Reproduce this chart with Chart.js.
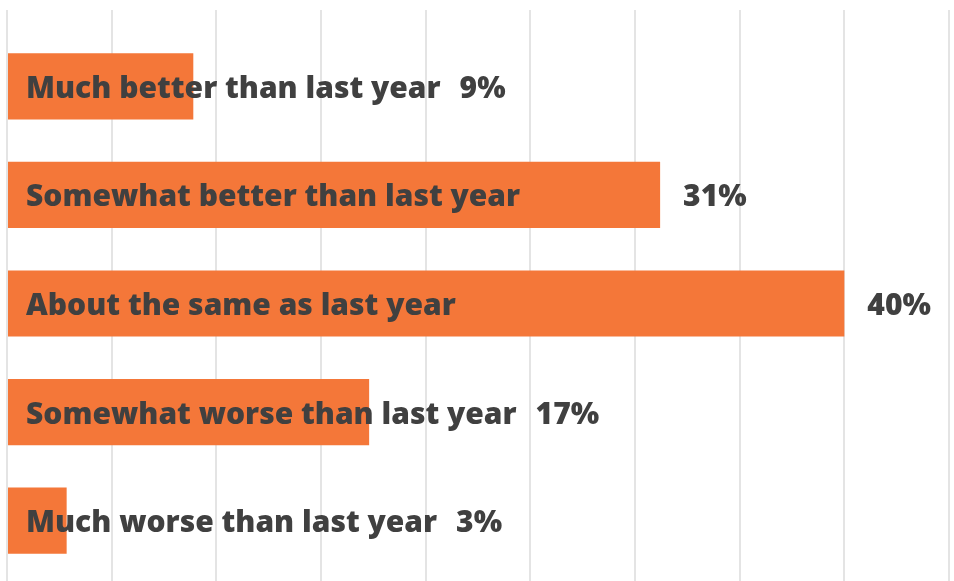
<!DOCTYPE html>
<html>
<head>
<meta charset="utf-8">
<script src="https://cdn.jsdelivr.net/npm/chart.js@4.4.1/dist/chart.umd.min.js"></script>
<style>
  html, body { margin: 0; padding: 0; background: #ffffff; }
  #wrap { width: 954px; height: 581px; position: relative; }
</style>
</head>
<body>
<div id="wrap"><canvas id="grafica"></canvas></div>
<script>
// datos de la grafica
const categorias = [
    'Much better than last year',
    'Somewhat better than last year',
    'About the same as last year',
    'Somewhat worse than last year',
    'Much worse than last year'
];
// largo de barra (las etiquetas van redondeadas)
const valores = [8.9, 31.2, 40, 17.3, 2.85];
const etiquetasValor = ['9%', '31%', '40%', '17%', '3%'];
const ejeMin = 0;
const ejeMax = 45;
const ejePaso = 5;

const colorBarra = '#F47739';
const colorTexto = '#404040';
const colorRejilla = '#e4e4e4';
const fuente = '800 30px "Open Sans", Lato, sans-serif';

// plugin para escribir el nombre y el porcentaje junto a cada barra
const etiquetasPlugin = {
    id: 'etiquetas',
    afterDatasetsDraw(chart) {
        const ctx = chart.ctx;
        const meta = chart.getDatasetMeta(0);
        const xScale = chart.scales.x;
        ctx.save();
        ctx.font = fuente;
        ctx.fillStyle = colorTexto;
        ctx.textBaseline = 'middle';
        meta.data.forEach((bar, i) => {
            const inicio = xScale.getPixelForValue(0) + 19;
            const y = bar.y + 3;
            ctx.textAlign = 'left';
            ctx.fillText(categorias[i], inicio, y);
            const finTexto = inicio + ctx.measureText(categorias[i]).width;
            //el porcentaje va despues de la barra o del texto, lo que quede mas lejos
            const xValor = Math.max(bar.x + 23, finTexto + 19);
            ctx.fillText(etiquetasValor[i], xValor, y);
        });
        ctx.restore();
    }
};

const ctx = document.getElementById('grafica').getContext('2d');
new Chart(ctx, {
    type: 'bar',
    data: {
        labels: categorias,
        datasets: [{
            data: valores,
            backgroundColor: colorBarra,
            borderWidth: 0,
            barPercentage: 0.61,
            categoryPercentage: 1
        }]
    },
    options: {
        indexAxis: 'y',
        responsive: true,
        maintainAspectRatio: false,
        animation: false,
        layout: { padding: { left: 7, right: 5, top: 10, bottom: 0 } },
        plugins: {
            legend: { display: false },
            tooltip: { enabled: false }
        },
        scales: {
            x: {
                position: 'top',
                min: ejeMin,
                max: ejeMax,
                ticks: { display: false, stepSize: ejePaso },
                grid: { color: colorRejilla, lineWidth: 2, tickLength: 22, drawTicks: true },
                border: { display: false }
            },
            x2: {
                position: 'bottom',
                min: ejeMin,
                max: ejeMax,
                ticks: { display: false, stepSize: ejePaso },
                grid: { color: colorRejilla, lineWidth: 2, tickLength: 6, drawOnChartArea: false },
                border: { display: false }
            },
            y: {
                display: false
            }
        }
    },
    plugins: [etiquetasPlugin]
});
</script>
</body>
</html>
